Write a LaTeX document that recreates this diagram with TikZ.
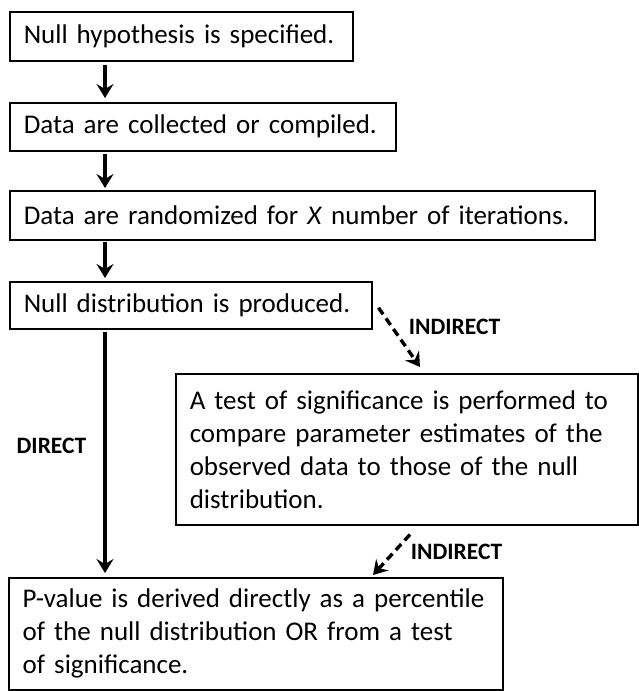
\documentclass[tikz,border=0pt]{standalone}
\usepackage{fontspec}
\setmainfont{Carlito}
\usetikzlibrary{arrows.meta,positioning}

\begin{document}
\begin{tikzpicture}[x=1pt, y=-1pt,
  font=\fontsize{27}{33}\selectfont,
  stepbox/.style={draw, line width=1.5pt, anchor=north west, inner xsep=14pt, inner ysep=0pt, align=left,
                  execute at begin node={\parindent=0pt\hyphenpenalty=10000\exhyphenpenalty=10000}},
  lbl/.style={font=\fontsize{23.5}{26}\selectfont\bfseries, inner sep=0pt},
  arr/.style={-{Stealth[length=14pt,width=17pt,inset=5pt]}, line width=3.4pt},
  ind/.style={arr, dash pattern=on 8pt off 5pt},
]
\useasboundingbox (0,0) rectangle (638,691);

% The chain of steps down the left side.
\node[stepbox, text width=315pt, minimum height=49pt] (hyp) at (9,11) {Null hypothesis is specified.};
\node[stepbox, text width=358pt, minimum height=48pt] (collect) at (9,102) {Data are collected or compiled.};
\node[stepbox, text width=557pt, minimum height=49pt] (rand) at (9,190) {Data are randomized for \textit{X} number of iterations.};
\node[stepbox, text width=334pt, minimum height=47pt] (nulldist) at (9,281) {Null distribution is produced.};
\node[stepbox, text width=434pt, minimum height=151pt] (sigtest) at (175,373)
  {A test of significance is performed to\\compare parameter estimates of the\\observed data to those of the null\\distribution.};
\node[stepbox, text width=466pt, minimum height=112pt] (pval) at (8,577)
  {P-value is derived directly as a percentile\\of the null distribution OR from a test\\of significance.};

\coordinate (spine) at (105,0);
\draw[arr, shorten <=3pt, shorten >=4pt] (hyp.south -| spine) -- (collect.north -| spine);
\draw[arr, shorten <=2pt, shorten >=2pt] (collect.south -| spine) -- (rand.north -| spine);
\draw[arr, shorten <=1pt, shorten >=3pt] (rand.south -| spine) -- (nulldist.north -| spine);
\draw[arr, shorten <=2pt, shorten >=4pt] (nulldist.south -| spine) --
  node[lbl, left=17pt, pos=0.47] (direct) {DIRECT} (pval.north -| spine);

% The indirect route through the test of significance.
\draw[ind] ([xshift=6pt, yshift=-2.5pt]nulldist.east) --
  node[lbl, right=15pt, pos=0.33] (ind1) {INDIRECT} ([xshift=245pt, yshift=6pt]sigtest.north west);
\draw[ind] ([xshift=235pt, yshift=-9pt]sigtest.south west) --
  node[lbl, right=15pt, pos=0.43] (ind2) {INDIRECT} ([xshift=365pt, yshift=2pt]pval.north west);

\end{tikzpicture}
\end{document}
